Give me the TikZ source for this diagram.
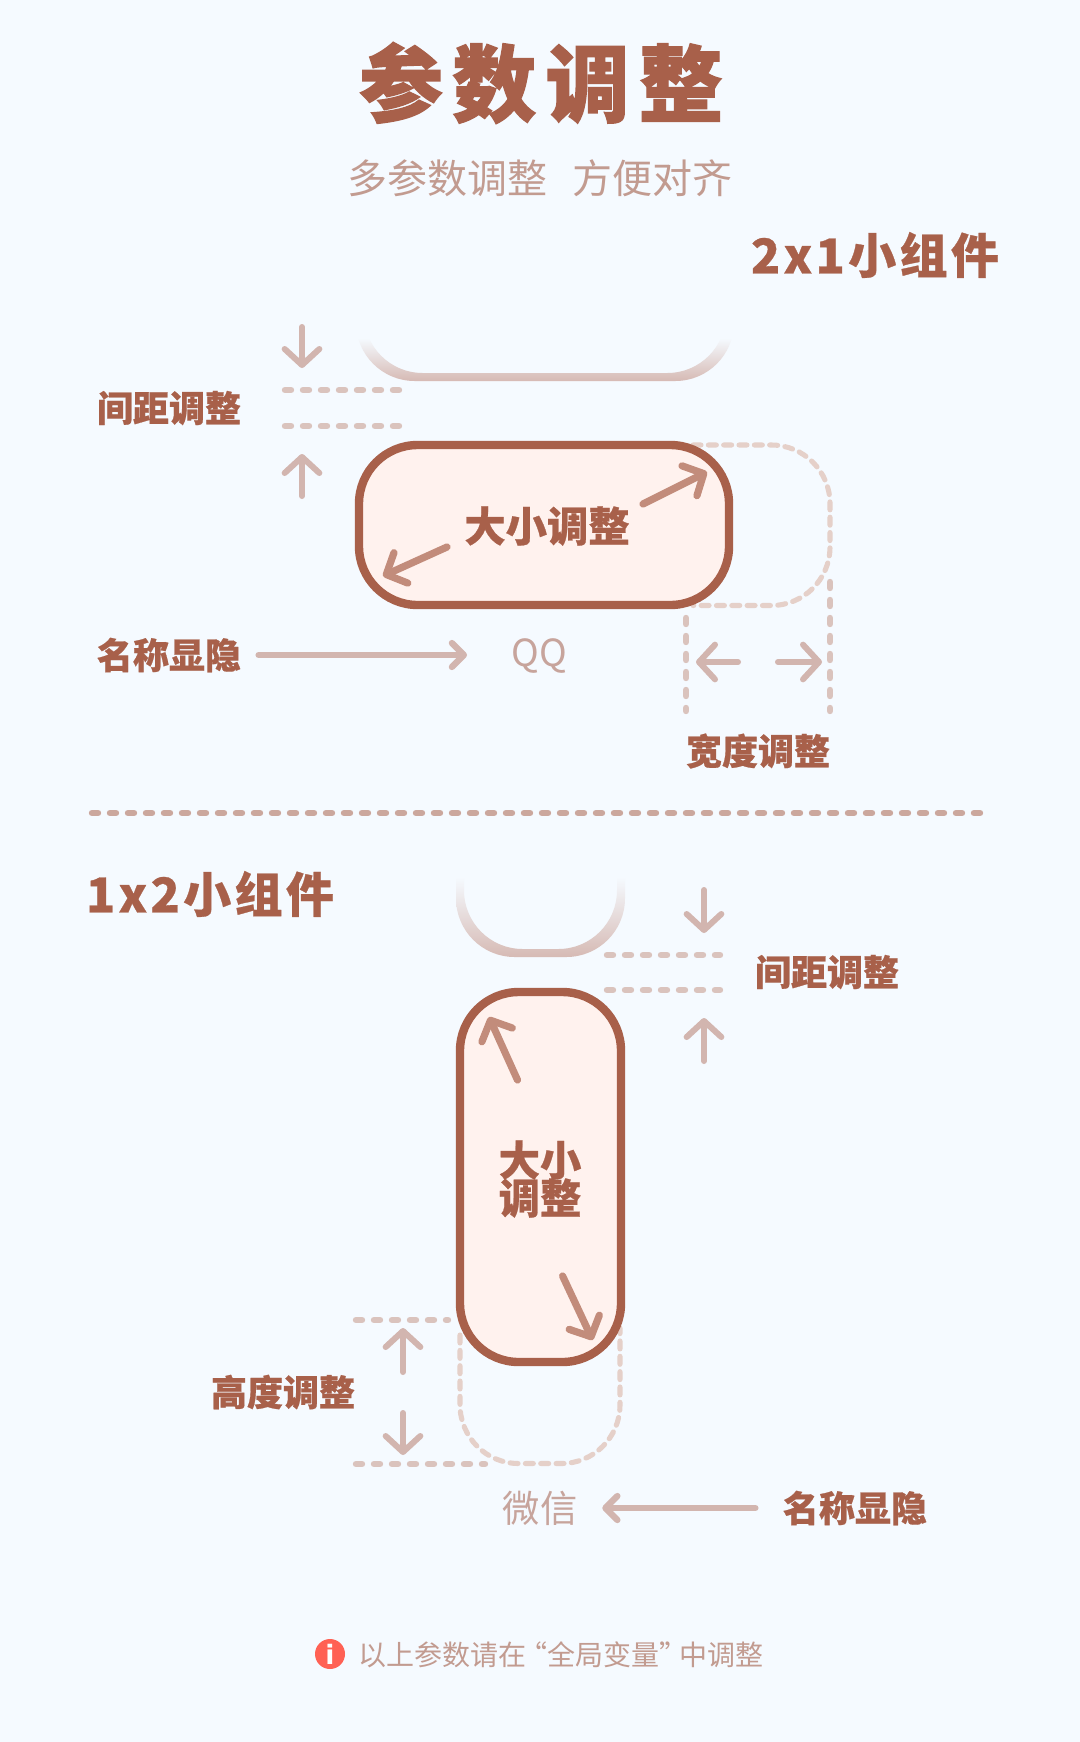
\documentclass[tikz,border=0pt]{standalone}
\usepackage{fontspec}
\usetikzlibrary{arrows.meta,calc}
\newfontfamily\cjk{Noto Sans CJK SC}
\newfontfamily\cjkheavy{Noto Sans CJK SC}[UprightFont=* Black, FakeBold=0.6]
\newfontfamily\cjktitle{Noto Sans CJK SC}[UprightFont=* Black, FakeBold=1.5]
\definecolor{pagebg}{HTML}{F5FAFF}
\definecolor{brick}{HTML}{A8604A}
\definecolor{boxfill}{HTML}{FFF2EE}
\definecolor{inarrow}{HTML}{C28C7B}
\definecolor{hintarrow}{HTML}{D2B5AF}
\definecolor{ghostline}{HTML}{D6BAB4}
\definecolor{ghostdash}{HTML}{E5D0C9}
\definecolor{guide}{HTML}{DAC3BD}
\definecolor{rule}{HTML}{CBA79D}
\definecolor{softtext}{HTML}{C7A49C}
\definecolor{footnote}{HTML}{C29B90}
\definecolor{infored}{HTML}{FF6154}
\tikzset{
  label/.style={font=\cjkheavy\fontsize{27pt}{27pt}\selectfont, text=brick, inner sep=0pt},
  heading/.style={font=\cjkheavy\addfontfeature{LetterSpace=7}\fontsize{36pt}{36pt}\selectfont, text=brick, inner sep=0pt},
  hint/.style={font=\cjk\fontsize{28pt}{28pt}\selectfont, text=softtext, inner sep=0pt},
  widget/.style={draw=brick, fill=boxfill, line width=6.3pt, rounded corners=44pt},
  gapline/.style={guide, line width=4.8pt, line cap=round, dash pattern=on 4.5pt off 9pt},
  ghostbox/.style={ghostdash, line width=3.8pt, line cap=round, dash pattern=on 6pt off 5.5pt, rounded corners=44pt},
  hintarr/.style={hintarrow, line width=4.5pt, line cap=round,
    -{Straight Barb[round, length=12pt, width=26pt, line width=4.5pt]}},
  namearr/.style={hintarrow, line width=4.7pt, line cap=round,
    -{Straight Barb[round, length=9pt, width=18pt, line width=4.7pt]}},
  sizearr/.style={inarrow, line width=5.4pt, line cap=round,
    -{Straight Barb[round, length=12pt, width=25pt, line width=5.4pt]}},
}
\begin{document}
\begin{tikzpicture}[x=0.75pt, y=-0.75pt]
    \useasboundingbox (0,0) rectangle (1080,1742);
    \fill[pagebg] (0,0) rectangle (1080,1742);

    % title
    \node[inner sep=0pt] (title) at (541,83) {\cjktitle\addfontfeature{LetterSpace=11}\fontsize{63pt}{63pt}\selectfont\textcolor{brick}{参数调整}};
    \node[hint, text=footnote, font=\cjk\fontsize{30pt}{30pt}\selectfont] (subtitle) at (540,178) {多参数调整\hspace{0.65em}方便对齐};

    % 2x1 widget
    \node[heading] (headA) at (875,255) {2x1小组件};
    \shade[top color=pagebg, bottom color=ghostline, even odd rule]
        (356,338) [rounded corners=44pt] -- (356,381) -- (734,381) [sharp corners] -- (734,338) -- cycle
        (364,338) [rounded corners=44pt] -- (364,373) -- (726,373) [sharp corners] -- (726,338) -- cycle;
    \draw[ghostbox] (693,445) -- (830,445) -- (830,605.5) -- (693,605.5);
    \draw[widget] (359,445) rectangle (729,605);
    \node[label, font=\cjkheavy\fontsize{31pt}{31pt}\selectfont] (sizeA) at (547,526) {大小调整};
    \draw[sizearr] (447,547) -- (383,576);
    \draw[sizearr] (643,504) -- (707,472);

    % gap, 2x1
    \node[label] (gapA) at (169,408) {间距调整};
    \draw[gapline] (285,390) -- (399,390);
    \draw[gapline] (285,426) -- (399,426);
    \draw[hintarr] (302,327) -- (302,368);
    \draw[hintarr] (302,496) -- (302,454);

    % name, 2x1
    \node[label] (nameA) at (169,655) {名称显隐};
    \node[hint] (qq) at (539,656) {QQ};
    \draw[namearr, shorten <=13pt, shorten >=33pt] (nameA.east) -- (qq.west |- nameA.east);

    % width
    \draw[gapline] (686,618) -- (686,711);
    \draw[gapline] (830,582) -- (830,711);
    \draw[hintarr] (738,662) -- (696,662);
    \draw[hintarr] (778,662) -- (822,662);
    \node[label] (widthA) at (758,751) {宽度调整};

    % divider
    \draw[rule, line width=4.8pt, line cap=round, dash pattern=on 4.5pt off 9pt] (92,813) -- (983,813);

    % 1x2 widget
    \node[heading] (headB) at (210,894) {1x2小组件};
    \shade[top color=pagebg, bottom color=ghostline, even odd rule]
        (456,877) [rounded corners=44pt] -- (456,957) -- (625,957) [sharp corners] -- (625,877) -- cycle
        (464,877) [rounded corners=44pt] -- (464,949) -- (617,949) [sharp corners] -- (617,877) -- cycle;
    \draw[ghostbox] (460,1335) -- (460,1463.5) -- (620,1463.5) -- (620,1328);
    \draw[widget] (460,992) rectangle (621,1362);
    \node[label, font=\cjkheavy\fontsize{31pt}{31pt}\selectfont] (sizeTop) at (540,1160) {大小};
    \node[label, font=\cjkheavy\fontsize{31pt}{31pt}\selectfont] (sizeBot) at (540,1198) {调整};
    \draw[sizearr] (517.5,1080) -- (489,1017);
    \draw[sizearr] (562.6,1276) -- (592.6,1340);

    % gap, 1x2
    \node[label] (gapB) at (827,972) {间距调整};
    \draw[gapline] (607,955) -- (720,955);
    \draw[gapline] (607,990) -- (720,990);
    \draw[hintarr] (704,890) -- (704,933);
    \draw[hintarr] (704,1061) -- (704,1018);

    % height
    \node[label] (heightB) at (283,1392) {高度调整};
    \draw[gapline] (356,1320) -- (448,1320);
    \draw[gapline] (356,1464) -- (485,1464);
    \draw[hintarr] (403,1372) -- (403,1328);
    \draw[hintarr] (403,1413) -- (403,1455);

    % name, 1x2
    \node[label] (nameB) at (855,1508) {名称显隐};
    \node[hint] (wechat) at (540,1508) {微信};
    \draw[namearr, shorten <=20.5pt, shorten >=18.5pt] (nameB.west) -- (wechat.east |- nameB.west);

    % note
    \fill[infored] (330,1654) circle[radius=15];
    \node[font=\fontspec{DejaVu Sans Bold}\fontsize{20pt}{20pt}\selectfont, text=white, inner sep=0pt] (infoicon) at (330,1654) {i};
    \node[font=\cjk\fontsize{21pt}{21pt}\selectfont, text=footnote, inner sep=0pt] (note) at (561,1655) {以上参数请在\hspace{-0.28em}“全局变量”\hspace{-0.28em}中调整};
\end{tikzpicture}
\end{document}
